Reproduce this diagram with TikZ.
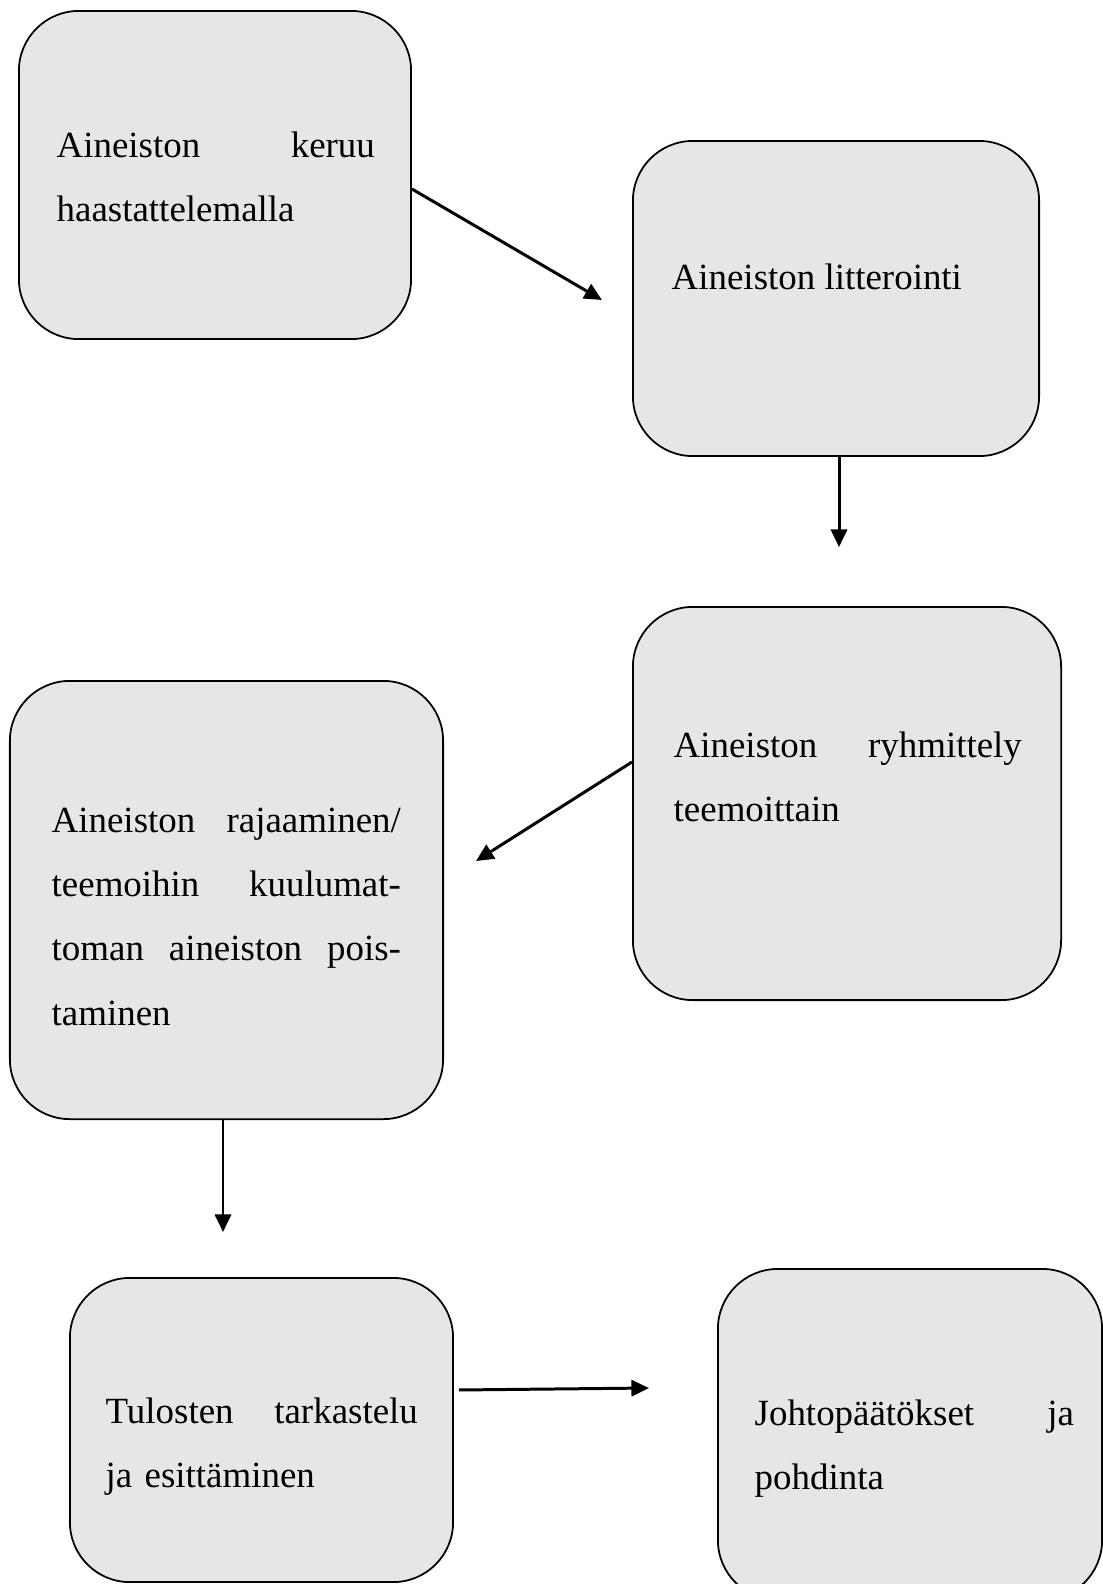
\documentclass[tikz,border=0pt]{standalone}
\usepackage{fontspec}
\setmainfont{Liberation Serif}
\usepackage{xcolor}
\usetikzlibrary{arrows.meta, calc, positioning}

\definecolor{boxgray}{HTML}{E6E6E6}
\tikzset{
    stage/.style={draw, line width=0.5pt, fill=boxgray, rounded corners=0.6cm, inner sep=0pt},
    words/.style={anchor=base west, inner sep=0pt, font=\fontsize{10.5}{18.3}\selectfont},
    flow/.style={line width=0.85pt, -{Triangle[length=5pt, width=4.6pt]}}
}

\begin{document}
\begin{tikzpicture}[x=0.01cm, y=-0.01cm]
                            \useasboundingbox (0,0) rectangle (1103,1584);

                            \node[stage, minimum width=3.92cm, minimum height=3.28cm] (b1) at (215,175) {};
                            \node[stage, minimum width=4.06cm, minimum height=3.15cm] (b2) at (836,298.5) {};
                            \node[stage, minimum width=4.28cm, minimum height=3.93cm] (b3) at (847,803.5) {};
                            \node[stage, minimum width=4.33cm, minimum height=4.38cm] (b4) at (226.5,900) {};
                            \node[stage, minimum width=3.83cm, minimum height=3.04cm] (b5) at (261.5,1430) {};
                            \node[stage, minimum width=3.84cm, minimum height=3.31cm] (b6) at (910,1434.5) {};

                            \node[words, text width=3.18cm] (t1) at (56,157) {Aineiston\hfill keruu\\haastattelemalla};
                            \node[words] (t2) at (671,289) {Aineiston litterointi};
                            \node[words, text width=3.48cm] (t3) at (673,757) {Aineiston\hfill ryhmittely\\teemoittain};
                            \node[words, text width=3.49cm] (t4) at (51,832) {Aineiston\hfill rajaaminen/\\teemoihin\hfill kuulumat-\\toman\hfill aineiston\hfill pois-\\taminen};
                            \node[words, text width=3.12cm] (t5) at (105,1423) {Tulosten\hfill tarkastelu\\ja esittäminen};
                            \node[words, text width=3.19cm] (t6) at (754,1425) {Johtopäätökset\hfill ja\\pohdinta};

                            \coordinate (e1) at (602,300);
                            \coordinate (e2) at (839,547);
                            \coordinate (e3) at (476,861);
                            \coordinate (e4) at (223,1232);
                            \coordinate (e5) at (649,1388);

                            \draw
                            ([yshift=-0.14cm]b1.east) edge[flow] (e1)
                            (b2.south -| e2) edge[flow] (e2)
                            ([yshift=0.415cm]b3.west) edge[flow] (e3)
                            (b4.south -| e4) edge[flow] (e4)
                            ([xshift=0.05cm, yshift=0.4cm]b5.east) edge[flow] (e5);
                        \end{tikzpicture}
\end{document}
